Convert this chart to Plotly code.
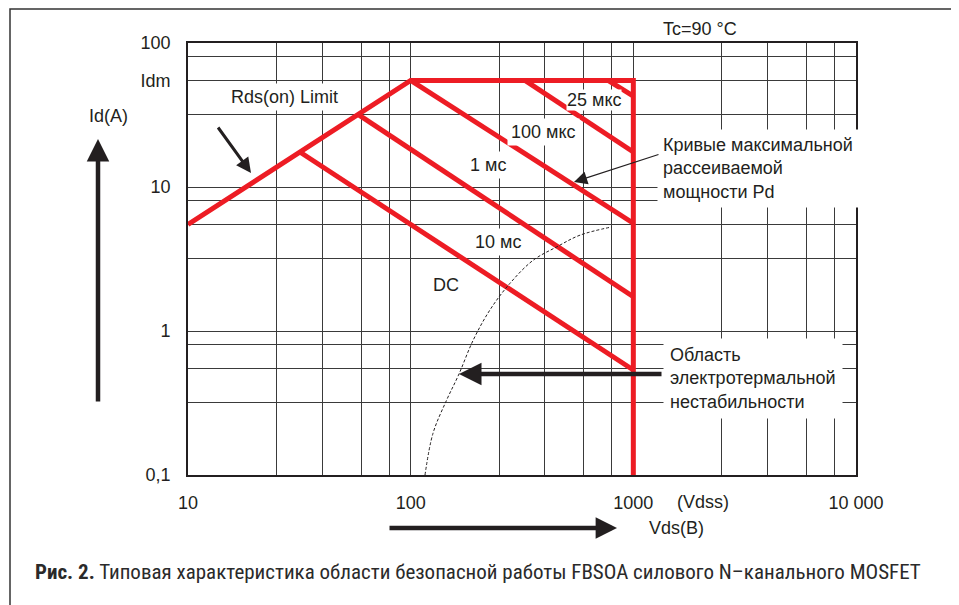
import plotly.graph_objects as go

# ---------------- data ----------------
x_tick_vals = [10, 100, 1000, 10000]
x_tick_text = ["10", "100", "1000", "10 000"]
y_tick_vals = [0.1, 1, 10, 55, 100]
y_tick_text = ["0,1", "1", "10", "Idm", "100"]
x_grid = [25, 40, 60, 80, 250, 400, 600, 800, 2500, 4000, 6000, 8000]
y_grid = [0.32, 0.55, 0.8, 3.2, 5.5, 8, 32, 80]

# outer limit: Rds(on) limit -> Idm -> Vdss
limit_v = [10, 100, 1000, 1000]
limit_i = [5.5, 55, 55, 0.1]
# pulse / DC lines of maximum dissipated power
p25us_v = [770, 1000]
p25us_i = [55, 42.7]
p100us_v = [326, 1000]
p100us_i = [55, 17.5]
p1ms_v = [100, 1000]
p1ms_i = [55, 5.6]
p10ms_v = [58, 1000]
p10ms_i = [31.9, 1.73]
dc_v = [31.8, 1000]
dc_i = [17.5, 0.536]
# electrothermal instability boundary (dashed)
eti_v = [116, 126, 145, 164, 191, 227, 279, 355, 453, 576, 800]
eti_i = [0.1, 0.195, 0.331, 0.494, 0.865, 1.40, 2.14, 3.10, 3.84, 4.63, 5.28]

RED = "#ED1C24"
INK = "#231F20"
GRID = "#3a3a3a"
FONT = "Liberation Sans, Arial, sans-serif"

# page offset of the figure (browser body margin)
O = 8
# plot area in page pixels
L, T, R, B = 188, 43, 856, 475
W, H = 959 - O, 605 - O


def px(x):
    return (x - L) / (R - L)


def py(y):
    return (B - y) / (B - T)


fig = go.Figure()

red_series = [
    (limit_v, limit_i),
    (p25us_v, p25us_i),
    (p100us_v, p100us_i),
    (p1ms_v, p1ms_i),
    (p10ms_v, p10ms_i),
    (dc_v, dc_i),
]
for xs, ys in red_series:
    fig.add_trace(go.Scatter(x=xs, y=ys, mode="lines",
                             line=dict(color=RED, width=5),
                             hoverinfo="skip", showlegend=False))

fig.add_trace(go.Scatter(x=eti_v, y=eti_i, mode="lines",
                         line=dict(color=INK, width=1, dash="3px,2px", shape="spline"),
                         hoverinfo="skip", showlegend=False))

axis_common = dict(
    type="log",
    showgrid=True, gridcolor=GRID, gridwidth=1.2,
    showline=True, mirror=True, linecolor=INK, linewidth=1.6,
    ticks="", zeroline=False,
    tickfont=dict(family=FONT, size=18, color=INK),
)

fig.update_xaxes(**axis_common, range=[1, 4], tickvals=x_tick_vals, ticktext=x_tick_text,
                 ticklabelstandoff=11,
                 minor=dict(tickvals=x_grid, showgrid=True, gridcolor=GRID, gridwidth=1.2, ticks=""))
fig.update_yaxes(**axis_common, range=[-1, 2], tickvals=y_tick_vals, ticktext=y_tick_text,
                 ticklabelstandoff=12,
                 minor=dict(tickvals=y_grid, showgrid=True, gridcolor=GRID, gridwidth=1.2, ticks=""))

ann = []


def text(x, y, s, xanchor="center", yanchor="middle", size=18, bg=None, pad=1, align="center",
         color=INK, family=FONT):
    d = dict(xref="paper", yref="paper", x=px(x), y=py(y), text=s, showarrow=False,
             xanchor=xanchor, yanchor=yanchor, align=align,
             font=dict(family=family, size=size, color=color))
    if bg:
        d.update(bgcolor=bg, borderpad=pad)
    ann.append(d)


def arrow(tx, ty, sx, sy, width, size):
    ann.append(dict(xref="paper", yref="paper", x=px(tx), y=py(ty), ax=sx - tx, ay=sy - ty,
                    axref="pixel", ayref="pixel", text="", showarrow=True,
                    arrowhead=2, arrowsize=size, arrowwidth=width, arrowcolor=INK, standoff=0))


# labels inside plot (white background breaks the grid)
text(284, 97, "Rds(on) Limit", bg="white", pad=3)
text(594, 100, "25 мкс", bg="white", pad=0)
text(543, 132, "100 мкс", bg="white", pad=3)
text(488, 165, "1 мс", bg="white", pad=3)
text(498, 242, "10 мс", bg="white", pad=3)
text(446, 285, "DC", bg="white", pad=3)
text(657, 168, "Кривые максимальной<br>рассеиваемой<br>мощности Pd",
     xanchor="left", align="left", bg="white", pad=5)
text(663, 378, "Область<br>электротермальной<br>нестабильности",
     xanchor="left", align="left", bg="white", pad=6)

# outside labels
text(700, 29, "Tc=90 °C")
text(108, 116, "Id(A)")
text(703, 502, "(Vdss)")
text(676, 528, "Vds(B)")
text(33, 572,
     "<b>Рис. 2.</b> Типовая характеристика области безопасной работы FBSOA силового N–канального MOSFET",
     xanchor="left", size=21, color="#2a2a2a",
     family="Liberation Sans Narrow, Roboto Condensed, sans-serif")

# arrows
arrow(98, 139, 98, 403, 4.5, 1.0)        # Id axis arrow
arrow(617, 528, 388, 528, 4.5, 0.95)     # Vds axis arrow
arrow(251, 173, 217, 126, 3, 1.0)        # Rds(on) limit
arrow(574, 182, 660, 154, 1.2, 2.2)      # Pd curves
arrow(459, 374, 663, 374, 4.5, 1.0)      # electrothermal instability

fig.update_layout(
    width=W, height=H,
    margin=dict(l=L - O, r=W - (R - O), t=T - O, b=H - (B - O)),
    paper_bgcolor="white", plot_bgcolor="white",
    annotations=ann,
    shapes=[dict(type="rect", xref="paper", yref="paper",
                 x0=px(10), x1=px(956), y0=py(640), y1=py(O + 1),
                 line=dict(color="#333333", width=1.5), fillcolor="rgba(0,0,0,0)", layer="above")],
    showlegend=False,
)

fig.write_html("out.html")
